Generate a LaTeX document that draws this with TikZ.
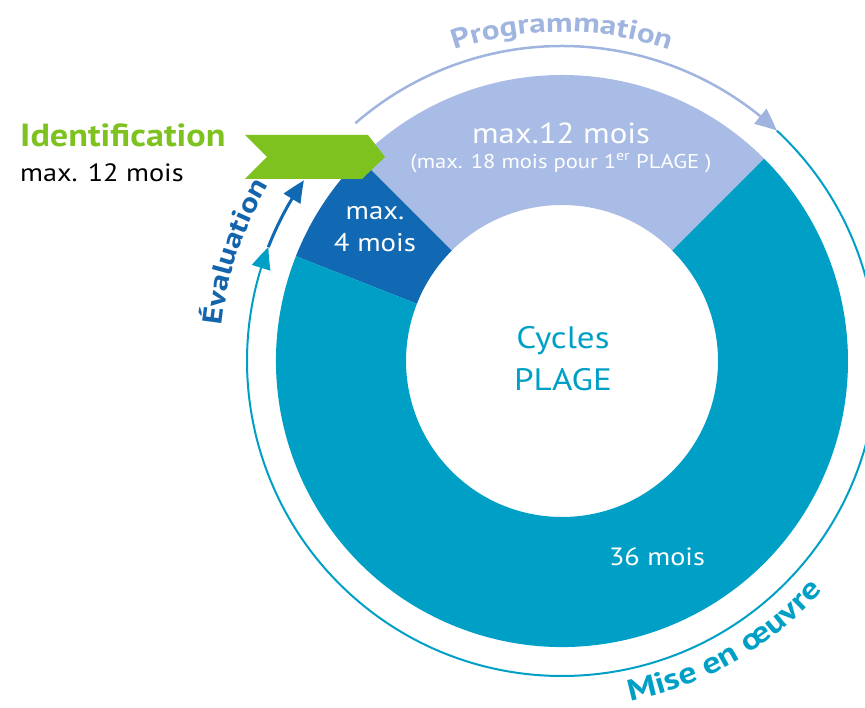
\documentclass[tikz,border=0pt]{standalone}
\usepackage{fontspec}
\setmainfont{PT Sans}[FakeStretch=1.13]
\newfontfamily\arcfont{PT Sans}[FakeStretch=1.2]
\usetikzlibrary{arrows.meta,decorations.text,bending}
\definecolor{lb}{RGB}{168,188,229}
\definecolor{progcol}{RGB}{160,180,224}
\definecolor{db}{RGB}{16,105,178}
\definecolor{tl}{RGB}{0,159,198}
\definecolor{gr}{RGB}{125,194,30}
\definecolor{evcol}{RGB}{20,100,172}
\newcommand\fs[1]{\fontsize{#1}{#1}\selectfont}
\tikzset{
  wtxt/.style={text=white, align=center, inner sep=0pt, font=\fs{25.5}, execute at begin node=\setlength{\baselineskip}{32pt}},
  arcarrow/.style={line width=#1, -{Triangle[length=22pt,width=19pt,bend]}},
}
\begin{document}
\begin{tikzpicture}[x=1pt,y=1pt]
\useasboundingbox (0,0) rectangle (865,708);
\begin{scope}[shift={(562,347)}]
  % donut
  \fill[lb] (45:286pt) arc[start angle=45,end angle=135,radius=286pt] -- (135:156pt) arc[start angle=135,end angle=45,radius=156pt] -- cycle;
  \fill[db] (135:286pt) arc[start angle=135,end angle=158.5,radius=286pt] -- (158.5:156pt) arc[start angle=158.5,end angle=135,radius=156pt] -- cycle;
  \fill[tl] (158.5:286pt) arc[start angle=158.5,end angle=405,radius=286pt] -- (405:156pt) arc[start angle=405,end angle=158.5,radius=156pt] -- cycle;
  % arc arrows
  \coordinate (progS) at (131:315pt);
  \coordinate (progE) at (47:315pt);
  \coordinate (evS) at (158.8:315pt);
  \draw[progcol, arcarrow=2.5pt] (progS) arc[start angle=131,end angle=47,radius=315pt];
  \draw[tl, arcarrow=2pt] (progE) arc[start angle=47,end angle=-201.2,radius=315pt];
  \draw[db, arcarrow=3pt] (evS) arc[start angle=158.8,end angle=145,radius=315pt];
  % arc texts
  \path[decorate, decoration={text along path, text={|\arcfont\fs{27.5}\bfseries|Programmation}, text align=center, text color=progcol}]
    (126:329pt) arc[start angle=126,end angle=54,radius=329pt];
  \path[decorate, decoration={text along path, text={|\arcfont\fs{27.5}\bfseries|Évaluation}, text align=center, text color=evcol}]
    (184:342pt) arc[start angle=184,end angle=139,radius=342pt];
  \path[decorate, decoration={text along path, text={|\arcfont\fs{30}\bfseries|Mise en œuvre}, text align=center, text color=tl}]
    (-98:347pt) arc[start angle=-98,end angle=-22,radius=347pt];
\end{scope}
% green chevron
\fill[gr] (245,573) coordinate (g1) -- (368,573) -- (385,551) -- (362,529) -- (245,529) -- (267,551) -- cycle;
% labels
\node[wtxt, font=\fs{29}] (lbtxt) at (561,575) {max.12 mois};
\node[wtxt, font=\fs{20}] (lbsub) at (561,545) {(max. 18 mois pour 1\textsuperscript{er} PLAGE )};
\node[wtxt] (dbtxt) at (375,479) {max.\\4 mois};
\node[wtxt, text=tl, font=\fs{31}, execute at begin node=\setlength{\baselineskip}{42pt}] (ctr) at (563,349) {Cycles\\PLAGE};
\node[wtxt, font=\fs{25}] (t36) at (657,151) {36 mois};
\node[anchor=base west, inner sep=0pt, text=gr, font=\fs{32}\bfseries] (idt) at (20,561) {Identification};
\node[anchor=base west, inner sep=0pt, text=black, font=\fs{25}] (ids) at (20,526) {max. 12 mois};
\end{tikzpicture}
\end{document}
